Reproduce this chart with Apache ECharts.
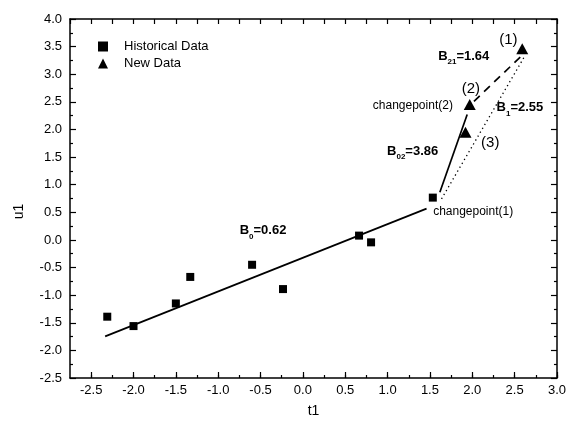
<!DOCTYPE html>
<html><head><meta charset="utf-8">
<script src="https://cdn.jsdelivr.net/npm/echarts@6/dist/echarts.min.js"></script>
<style>html,body{margin:0;padding:0;background:#fff}#c{width:569px;height:425px}</style>
</head><body><div id="c"></div>
<script>
// ---- data ----
const histX = [-2.31, -2.0, -1.50, -1.33, -0.60, -0.235, 0.663, 0.805, 1.534];
const histY = [-1.39, -1.56, -1.15, -0.67, -0.45, -0.89, 0.078, -0.044, 0.766];
const newX = [2.59, 1.97, 1.92];
const newY = [3.46, 2.45, 1.95];
const lineB0X = [-2.335, 1.46],  lineB0Y = [-1.746, 0.567];
const lineB02X = [1.617, 1.94],  lineB02Y = [0.862, 2.27];
const lineB21X = [2.02, 2.60],   lineB21Y = [2.51, 3.36];
const lineB1X = [1.637, 2.62],   lineB1Y = [0.743, 3.33];
const xMajorTicks = [-2.5, -2.0, -1.5, -1.0, -0.5, 0.0, 0.5, 1.0, 1.5, 2.0, 2.5, 3.0];
const xTickLabels = ['-2.5','-2.0','-1.5','-1.0','-0.5','0.0','0.5','1.0','1.5','2.0','2.5','3.0'];
// annotations: text, x, y (data units), anchor
const annText = ['{b|B}{s|0}{b|=0.62}', '{b|B}{s|02}{b|=3.86}', '{b|B}{s|21}{b|=1.64}', '{b|B}{s|1}{b|=2.55}',
                 '(1)', '(2)', '(3)', 'changepoint(2)', 'changepoint(1)'];
const annX = [-0.747, 0.994, 1.597, 2.287, 2.427, 1.983, 2.212, 1.771, 1.538];
const annY = [0.168, 1.605, 3.326, 2.39, 3.63, 2.735, 1.757, 2.433, 0.518];
const annAnchor = ['left', 'left', 'left', 'left', 'center', 'center', 'center', 'right', 'left'];

const FONT = 'Liberation Sans, Arial, Helvetica, sans-serif';
const pairs = (xs, ys) => xs.map((x, i) => [x, ys[i]]);

const chart = echarts.init(document.getElementById('c'), null, {renderer: 'canvas'});
const axisLine = {show: true, onZero: false, lineStyle: {color: '#000', width: 1.5}};
const fmtX = v => {
  const i = xMajorTicks.findIndex(t => Math.abs(t - v) < 1e-6);
  return i >= 0 ? xTickLabels[i] : '';
};

const annData = annText.map((t, i) => {
  const a = annAnchor[i];
  const isParen = t.startsWith('(');
  return {
    value: [annX[i], annY[i]],
    label: {
      show: true,
      formatter: t,
      position: a === 'left' ? 'right' : (a === 'right' ? 'left' : 'inside'),
      distance: 0,
      color: '#000',
      fontFamily: FONT,
      fontSize: isParen ? 15 : 12,
      rich: {
        b: {fontFamily: FONT, fontSize: 13, fontWeight: 'bold', color: '#000', lineHeight: 16},
        s: {fontFamily: FONT, fontSize: 8, fontWeight: 'bold', color: '#000', padding: [12, 0, 0, 0]}
      }
    }
  };
});

const lineSeries = (name, xs, ys, type) => ({
  name, type: 'line', data: pairs(xs, ys), symbol: 'none', silent: true,
  lineStyle: {color: '#000', width: type === 'dotted' ? 1.3 : 1.7, type: type === 'dashed' ? [8, 6] : (type === 'dotted' ? [1.3, 3.2] : 'solid')},
  z: 2
});

chart.setOption({
  animation: false,
  backgroundColor: '#fff',
  grid: {left: 70, right: 12, top: 19, bottom: 47},
  legend: {
    orient: 'vertical', left: 93, top: 35, itemGap: 4, itemWidth: 10, itemHeight: 10,
    data: [{name: 'Historical Data', icon: 'rect'}, {name: 'New Data', icon: 'triangle'}],
    textStyle: {fontFamily: FONT, fontSize: 13, color: '#000', padding: [0, 0, 0, 11]},
    itemStyle: {color: '#000'}
  },
  xAxis: [
    {type: 'value', position: 'bottom', min: -2.75, max: 3.0, interval: 0.25,
     name: 't1', nameLocation: 'middle', nameGap: 26,
     nameTextStyle: {fontFamily: FONT, fontSize: 14, color: '#000'},
     axisLine, splitLine: {show: false},
     axisTick: {inside: true, length: 3, lineStyle: {color: '#000', width: 1.2}},
     axisLabel: {formatter: fmtX, fontFamily: FONT, fontSize: 13, color: '#000', margin: 6, showMinLabel: false}},
    {type: 'value', position: 'bottom', min: -2.75, max: 3.0, gridIndex: 0,
     axisLine: {show: false, onZero: false}, splitLine: {show: false},
     axisTick: {inside: true, length: 6, customValues: xMajorTicks, lineStyle: {color: '#000', width: 1.2}},
     axisLabel: {show: false}},
    {type: 'value', position: 'top', min: -2.75, max: 3.0, interval: 0.25,
     axisLine, splitLine: {show: false},
     axisTick: {inside: true, length: 5, lineStyle: {color: '#000', width: 1.2}},
     axisLabel: {show: false}}
  ],
  yAxis: [
    {type: 'value', position: 'left', min: -2.5, max: 4.0, interval: 0.5,
     name: 'u1', nameLocation: 'middle', nameGap: 44,
     nameTextStyle: {fontFamily: FONT, fontSize: 14, color: '#000', padding: [0, 26, 0, 0]},
     axisLine, splitLine: {show: false},
     axisTick: {inside: true, length: 6, lineStyle: {color: '#000', width: 1.2}},
     minorTick: {show: true, splitNumber: 2, length: 3, lineStyle: {color: '#000', width: 1.2}},
     axisLabel: {formatter: v => v.toFixed(1), fontFamily: FONT, fontSize: 13, color: '#000', margin: 8}},
    {type: 'value', position: 'right', min: -2.5, max: 4.0, interval: 0.5,
     axisLine, splitLine: {show: false},
     axisTick: {inside: true, length: 6, lineStyle: {color: '#000', width: 1.2}},
     minorTick: {show: true, splitNumber: 2, length: 3, lineStyle: {color: '#000', width: 1.2}},
     axisLabel: {show: false}}
  ],
  series: [
    lineSeries('B0', lineB0X, lineB0Y, 'solid'),
    lineSeries('B02', lineB02X, lineB02Y, 'solid'),
    lineSeries('B21', lineB21X, lineB21Y, 'dashed'),
    lineSeries('B1', lineB1X, lineB1Y, 'dotted'),
    {name: 'Historical Data', type: 'scatter', data: pairs(histX, histY), symbol: 'rect', symbolSize: 8,
     itemStyle: {color: '#000', opacity: 1}, z: 3},
    {name: 'New Data', type: 'scatter', data: pairs(newX, newY), symbol: 'triangle', symbolSize: [12, 11],
     itemStyle: {color: '#000', opacity: 1}, z: 3},
    {name: 'annotations', type: 'scatter', data: annData, symbolSize: 0, silent: true, z: 4,
     itemStyle: {opacity: 1}}
  ]
});
</script>
</body></html>
